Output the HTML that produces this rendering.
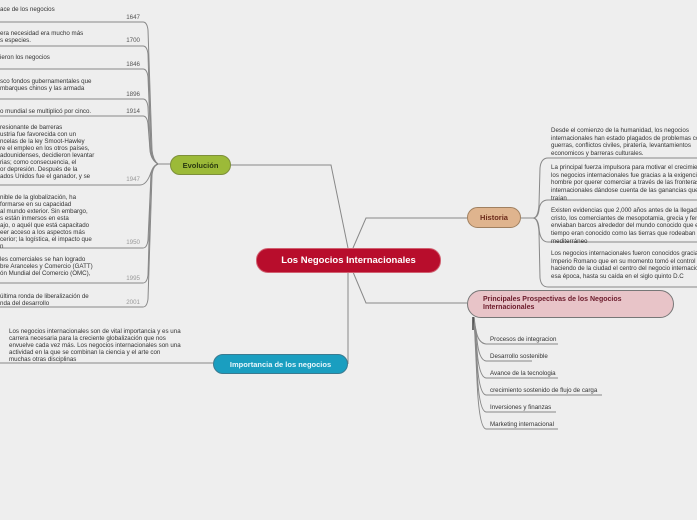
<!DOCTYPE html>
<html><head><meta charset="utf-8"><style>
html,body{margin:0;padding:0;background:#eeeeee;width:697px;height:520px;overflow:hidden;position:relative;font-family:"Liberation Sans",sans-serif;}
.t{position:absolute;font-size:6.2px;line-height:7px;color:#333;white-space:nowrap;}
.r{line-height:7.7px;}
.y{position:absolute;font-size:6.2px;color:#555;width:30px;text-align:right;}
.n{position:absolute;box-sizing:border-box;border-radius:12px;font-weight:bold;display:flex;align-items:center;}
</style></head><body>
<svg width="697" height="520" style="position:absolute;left:0;top:0" fill="none">
<g stroke="#888" stroke-width="1">
<path d="M0 22 H143 Q147 22 148 30 L152 150 Q153 160 158 164"/>
<path d="M0 46 H143 Q147 46 148 54 L151 150 Q152 160 158 164"/>
<path d="M0 69 H143 Q147 69 148 77 L151 150 Q152 160 158 164"/>
<path d="M0 99 H143 Q147 99 148 107 L150 150 Q151 160 158 164"/>
<path d="M0 116 H143 Q147 116 148 124 L150 150 Q151 160 158 164"/>
<path d="M0 185 H140 Q146 185 150 175 Q153 166 158 164"/>
<path d="M0 248 H143 Q147 248 148 240 L151 175 Q152 166 158 164"/>
<path d="M0 283 H143 Q147 283 148 275 L151 175 Q152 166 158 164"/>
<path d="M0 307 H143 Q147 307 148 299 L152 175 Q153 166 158 164"/>
<path d="M158 164 H170"/>
<path d="M230 165 H331 L348 248"/>
<path d="M353 248 L366 218 H467"/>
<path d="M353 272 L366 303 H467"/>
<path d="M0 363 H213"/>
<path d="M348 272 V364"/>
<path d="M521 218 H533"/>
<path d="M533 218 Q538 218 539 205 L540 168 Q541 158 548 158 H697"/>
<path d="M533 218 Q538 218 539 210 Q540 200 548 200 H697"/>
<path d="M533 218 Q538 218 539 228 Q540 242 548 242 H697"/>
<path d="M533 218 Q538 218 539 232 L540 278 Q541 287 548 287 H697"/>
<path d="M473 317 L476 330 Q478 343 486 344 H558"/>
<path d="M474 317 L477 340 Q479 360 486 361 H532"/>
<path d="M474 317 L477 350 Q479 377 486 378 H558"/>
<path d="M474 317 L477 360 Q479 394 486 395 H602"/>
<path d="M474 317 L477 370 Q479 411 486 412 H556"/>
<path d="M474 317 L477 380 Q479 428 486 429 H558"/>
</g>
<path d="M473 317 V330" stroke="#444" stroke-width="1.5"/>
</svg>
<div class="t" style="left:0;top:6px">ace de los negocios</div><div class="y" style="left:110px;top:14px">1647</div>
<div class="t" style="left:0;top:30px">era necesidad era mucho más<br>s especies.</div><div class="y" style="left:110px;top:37px">1700</div>
<div class="t" style="left:0;top:54px">ieron los negocios</div><div class="y" style="left:110px;top:61px">1846</div>
<div class="t" style="left:0;top:78px">sco fondos gubernamentales que<br>mbarques chinos y las armada</div><div class="y" style="left:110px;top:91px">1896</div>
<div class="t" style="left:0;top:108px">o mundial se multiplicó por cinco.</div><div class="y" style="left:110px;top:108px">1914</div>
<div class="t" style="left:0;top:124px">resionante de barreras<br>ustria fue favorecida con un<br>ncelas de la ley Smoot-Hawley<br>re el empleo en los otros países,<br>adounidenses, decidieron levantar<br>rias; como consecuencia, el<br>or depresión. Después de la<br>ados Unidos fue el ganador, y se</div><div class="y" style="left:110px;top:176px;color:#999">1947</div>
<div class="t" style="left:0;top:194px">nible de la globalización, ha<br>formarse en su capacidad<br>al mundo exterior. Sin embargo,<br>s están inmersos en esta<br>ajo, o aquél que está capacitado<br>eer acceso a los aspectos más<br>cerior; la logística, el impacto que<br>n</div><div class="y" style="left:110px;top:239px;color:#999">1950</div>
<div class="t" style="left:0;top:256px">les comerciales se han logrado<br>bre Aranceles y Comercio (GATT)<br>ón Mundial del Comercio (OMC),</div><div class="y" style="left:110px;top:275px;color:#999">1995</div>
<div class="t" style="left:0;top:293px">última ronda de liberalización de<br>nda del desarrollo</div><div class="y" style="left:110px;top:299px;color:#999">2001</div>
<div class="t" style="left:9px;top:328px">Los negocios internacionales son de vital importancia y es una<br>carrera necesaria para la creciente globalización que nos<br>envuelve cada vez más. Los negocios internacionales son una<br>actividad en la que se combinan la ciencia y el arte con<br>muchas otras disciplinas</div>
<div class="t r" style="left:551px;top:127px">Desde el comienzo de la humanidad, los negocios<br>internacionales han estado plagados de problemas como<br>guerras, conflictos civiles, piratería, levantamientos<br>economicos y barreras culturales.</div>
<div class="t r" style="left:551px;top:164px">La principal fuerza impulsora para motivar el crecimiento de<br>los negocios internacionales fue gracias a la exigencia del<br>hombre por querer comerciar a través de las fronteras<br>internacionales dándose cuenta de las ganancias que esto<br>traían</div>
<div class="t r" style="left:551px;top:207px">Existen evidencias que 2,000 años antes de la llegada de<br>cristo, los comerciantes de mesopotamia, grecia y fenicia<br>enviaban barcos alrededor del mundo conocido que en ese<br>tiempo eran conocido como las tierras que rodeaban el<br>mediterráneo</div>
<div class="t r" style="left:551px;top:250px">Los negocios internacionales fueron conocidos gracias al<br>Imperio Romano que en su momento tomó el control<br>haciendo de la ciudad el centro del negocio internacional en<br>esa época, hasta su caída en el siglo quinto D.C</div>
<div class="t" style="left:490px;top:336px">Procesos de integracion</div>
<div class="t" style="left:490px;top:353px">Desarrollo sostenible</div>
<div class="t" style="left:490px;top:370px">Avance de la tecnologia</div>
<div class="t" style="left:490px;top:387px">crecimiento sostenido de flujo de carga</div>
<div class="t" style="left:490px;top:404px">Inversiones y finanzas</div>
<div class="t" style="left:490px;top:421px">Marketing internacional</div>
<div class="n" style="left:170px;top:155px;width:61px;height:20px;background:#9cba38;border:1px solid #7d8f3a;justify-content:center;font-size:7.5px;color:#2a3a10">Evolución</div>
<div class="n" style="left:256px;top:248px;width:185px;height:25px;background:#b80d2c;border:1px solid #d06070;justify-content:center;font-size:9.5px;color:#fff">Los Negocios Internacionales</div>
<div class="n" style="left:467px;top:207px;width:54px;height:21px;background:#dfb48e;border:1px solid #a08060;justify-content:center;font-size:7.5px;color:#6b2a1a">Historia</div>
<div class="n" style="left:467px;top:290px;width:207px;height:28px;background:#e8c4c8;border:1.5px solid #777;border-radius:14px;padding-left:15px;font-size:7px;line-height:8px;color:#6b1a2a">Principales Prospectivas de los Negocios<br>Internacionales</div>
<div class="n" style="left:213px;top:354px;width:135px;height:20px;background:#1a9ec0;border:1px solid #3a7a90;justify-content:center;font-size:7.5px;color:#e8f6fb">Importancia de los negocios</div>
</body></html>
